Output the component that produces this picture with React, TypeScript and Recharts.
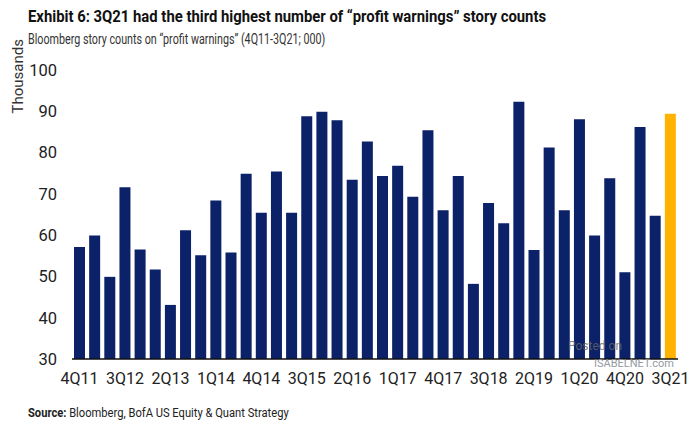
import { BarChart, Bar, XAxis, YAxis, Cell } from "recharts";

const QUARTERS = [
  "4Q11", "1Q12", "2Q12", "3Q12", "4Q12", "1Q13", "2Q13", "3Q13", "4Q13", "1Q14",
  "2Q14", "3Q14", "4Q14", "1Q15", "2Q15", "3Q15", "4Q15", "1Q16", "2Q16", "3Q16",
  "4Q16", "1Q17", "2Q17", "3Q17", "4Q17", "1Q18", "2Q18", "3Q18", "4Q18", "1Q19",
  "2Q19", "3Q19", "4Q19", "1Q20", "2Q20", "3Q20", "4Q20", "1Q21", "2Q21", "3Q21",
];

// story counts, thousands
const COUNTS = [
  57.1, 59.9, 49.9, 71.6, 56.5, 51.7, 43.1, 61.2, 55.1, 68.4,
  55.8, 74.9, 65.4, 75.4, 65.4, 88.8, 89.9, 87.8, 73.4, 82.7,
  74.3, 76.8, 69.3, 85.4, 66.0, 74.3, 48.2, 67.8, 62.9, 92.3,
  56.4, 81.2, 66.0, 88.1, 59.9, 73.8, 51.0, 86.2, 64.7, 89.4,
];

const Y_TICKS = [30, 40, 50, 60, 70, 80, 90, 100];

const NAVY = "#0b2168";
const HIGHLIGHT = "#ffb300";
const LAST = "3Q21";

const data = QUARTERS.map((q, i) => ({ q, v: COUNTS[i] }));

const font = "Roboto, 'Open Sans', sans-serif";

const squeeze = (k: number) => ({ transform: `scaleX(${k})`, transformOrigin: "0 0", whiteSpace: "nowrap" as const });

export default function App() {
  return (
    <div style={{ position: "absolute", left: 0, top: 0, width: 700, height: 430, background: "#fff", fontFamily: font }}>
      <div style={{ position: "absolute", left: 28, top: 7, fontSize: 16.5, fontWeight: 700, color: "#111", ...squeeze(0.9) }}>
        Exhibit 6: 3Q21 had the third highest number of “profit warnings” story counts
      </div>
      <div style={{ position: "absolute", left: 28, top: 31, fontSize: 14.5, color: "#333", ...squeeze(0.74) }}>
        Bloomberg story counts on “profit warnings” (4Q11-3Q21; 000)
      </div>
      <BarChart
        width={700}
        height={430}
        data={data}
        margin={{ top: 70, right: 22, bottom: 41, left: 12 }}
        barSize={11}
      >
        <XAxis
          dataKey="q"
          interval={2}
          height={30}
          tickLine={false}
          tickMargin={8}
          axisLine={{ stroke: "#111", strokeWidth: 1.5 }}
          tick={{ fontSize: 16, fill: "#222", fontFamily: font }}
        />
        <YAxis
          domain={[30, 100]}
          ticks={Y_TICKS}
          allowDataOverflow
          width={60}
          axisLine={false}
          tickLine={false}
          tickMargin={9}
          tick={{ fontSize: 16.5, fill: "#222", fontFamily: font }}
          label={{ value: "Thousands", angle: -90, position: "insideLeft", offset: 6, dy: -101, style: { fontSize: 15, fill: "#333", fontFamily: font } }}
        />
        <Bar dataKey="v" isAnimationActive={false}>
          {data.map((d) => (
            <Cell key={d.q} fill={d.q === LAST ? HIGHLIGHT : NAVY} />
          ))}
        </Bar>
      </BarChart>
      <div style={{ position: "absolute", left: 568, top: 339, fontSize: 12, color: "#666", whiteSpace: "nowrap", opacity: 0.8 }}>
        Posted on
      </div>
      <div style={{ position: "absolute", left: 594, top: 357, fontSize: 11, lineHeight: "13px", color: "#8a8f99", whiteSpace: "nowrap", opacity: 0.9 }}>
        ISABELNET.com
      </div>
      <div style={{ position: "absolute", left: 28, top: 406, fontSize: 12, color: "#222", ...squeeze(0.93) }}>
        <b>Source:</b> Bloomberg, BofA US Equity &amp; Quant Strategy
      </div>
    </div>
  );
}
